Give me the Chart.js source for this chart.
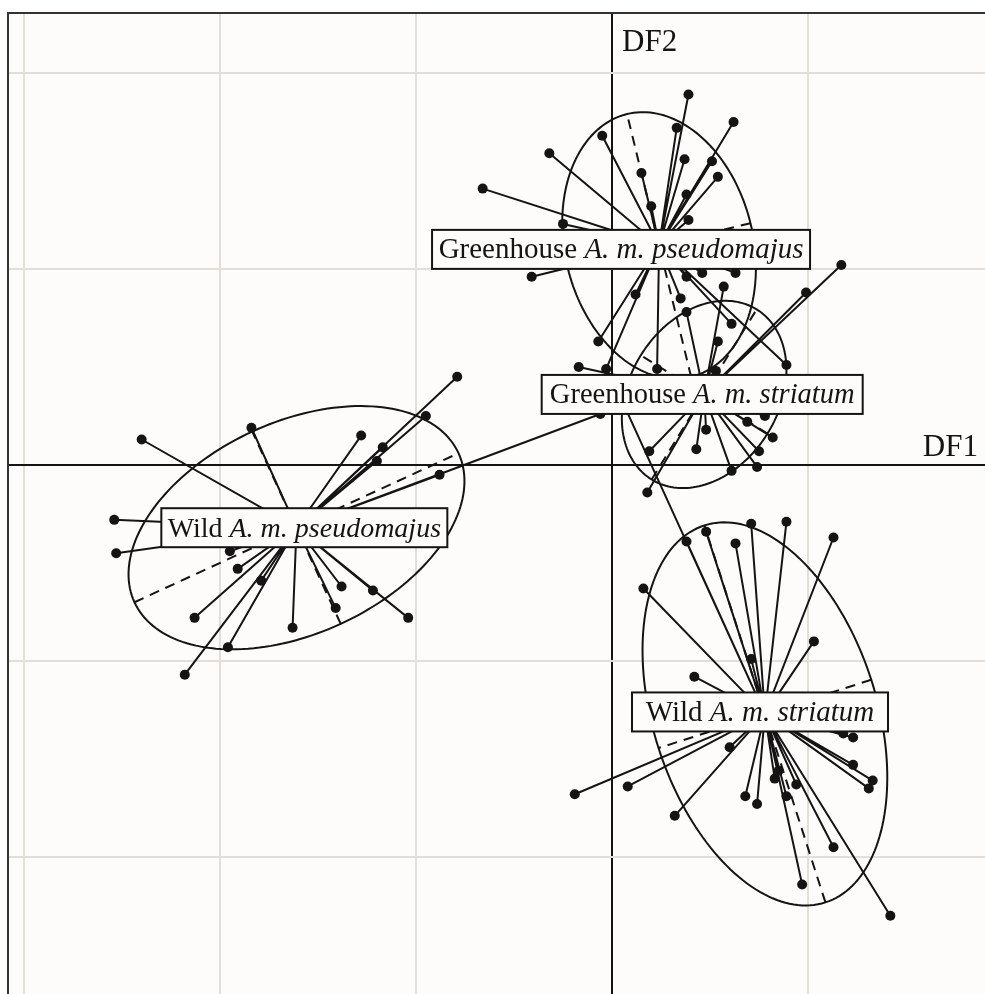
<!DOCTYPE html>
<html>
<head>
<meta charset="utf-8">
<script src="https://cdn.jsdelivr.net/npm/chart.js@4.4.1/dist/chart.umd.min.js"></script>
<style>
  html, body { margin: 0; padding: 0; background: #ffffff; }
  #wrap { width: 985px; height: 994px; }
</style>
</head>
<body>
<div id="wrap"><canvas id="df-chart" width="985" height="994"></canvas></div>
<script>
// Discriminant function scores (DF1, DF2)
const groupNames = ['Greenhouse', 'Greenhouse', 'Wild', 'Wild'];
const taxonNames = ['A. m. pseudomajus', 'A. m. striatum', 'A. m. pseudomajus', 'A. m. striatum'];

const ghPseudomajus = [
  [-0.05, 1.68], [-0.32, 1.59], [-0.66, 1.41], [0.15, 1.49], [0.20, 1.32], [-0.25, 1.23],
  [-0.41, 0.96], [0.39, 1.89], [0.62, 1.75], [0.33, 1.72], [0.37, 1.56], [0.51, 1.55],
  [0.54, 1.47], [0.38, 1.38], [0.39, 1.25], [0.46, 0.98], [0.63, 0.98], [0.38, 0.96],
  [0.12, 0.87], [0.35, 0.85], [0.61, 0.72], [-0.07, 0.63], [-0.03, 0.49], [0.23, 0.49],
  [0.89, 0.51]
];
const ghStriatum = [
  [1.17, 1.02], [0.99, 0.88], [0.57, 0.91], [0.38, 0.78], [0.54, 0.63], [-0.17, 0.50],
  [0.53, 0.48], [0.78, 0.25], [0.69, 0.22], [0.48, 0.18], [0.82, 0.14], [0.19, 0.07],
  [0.43, 0.08], [0.75, 0.07], [0.61, -0.03], [0.74, -0.01], [0.18, -0.14]
];
const wildPseudomajus = [
  [-2.40, 0.13], [-1.84, 0.19], [-0.79, 0.45], [-0.95, 0.25], [-1.28, 0.15], [-1.17, 0.09],
  [-1.20, 0.02], [-0.88, -0.05], [-0.06, 0.26], [-2.54, -0.28], [-2.53, -0.45], [-1.95, -0.44],
  [-1.91, -0.53], [-1.79, -0.59], [-2.13, -0.78], [-1.63, -0.83], [-1.96, -0.93], [-2.18, -1.07],
  [-1.38, -0.62], [-1.41, -0.73], [-1.22, -0.64], [-1.04, -0.78]
];
const wildStriatum = [
  [0.05, 0.33], [0.38, -0.39], [0.48, -0.34], [0.63, -0.40], [0.71, -0.30], [0.89, -0.29],
  [1.13, -0.37], [1.03, -0.90], [0.71, -0.99], [0.16, -0.63], [0.42, -1.08], [-0.19, -1.68],
  [0.08, -1.64], [0.32, -1.79], [0.60, -1.44], [0.68, -1.69], [0.74, -1.73], [0.83, -1.60],
  [0.85, -1.56], [0.89, -1.69], [0.94, -1.63], [1.13, -1.95], [0.97, -2.14], [1.42, -2.30],
  [1.18, -1.37], [1.23, -1.39], [1.23, -1.53], [1.33, -1.61], [1.31, -1.65]
];
const groupPoints = [ghPseudomajus, ghStriatum, wildPseudomajus, wildStriatum];

// class centroids
const centroids = [[0.24, 1.12], [0.47, 0.36], [-1.61, -0.32], [0.78, -1.27]];
// inertia ellipses: semi-major, semi-minor, angle of major axis (degrees)
const semiMajor = [0.69, 0.51, 0.91, 1.01];
const semiMinor = [0.48, 0.38, 0.54, 0.57];
const majorAngle = [103.7, 58.3, 24.7, 107.8];

// grid ticks
const xTicks = [-3, -2, -1, 0, 1];
const yTicks = [2, 1, 0, -1, -2];

// where the class labels sit (data units) and their box widths (px)
const labelPos = [[0.046, 1.10], [0.46, 0.36], [-1.57, -0.32], [0.755, -1.26]];
const labelBoxW = [378, 321, 286, 256];

const INK = '#141414';
const BG = '#fefcfa';
const FONT = '"Liberation Serif", "Times New Roman", serif';

function spokes(pts, c) {
  const out = [];
  pts.forEach(p => {
    out.push({ x: c[0], y: c[1] }, { x: p[0], y: p[1] }, { x: c[0], y: null });
  });
  return out;
}

const datasets = [];
groupPoints.forEach((pts, i) => {
  datasets.push({
    data: spokes(pts, centroids[i]),
    showLine: true,
    spanGaps: false,
    borderColor: INK,
    borderWidth: 2,
    pointRadius: 0
  });
});
groupPoints.forEach(pts => {
  datasets.push({
    data: pts.map(p => ({ x: p[0], y: p[1] })),
    showLine: false,
    pointRadius: 5,
    pointBackgroundColor: INK,
    pointBorderWidth: 0
  });
});

const overlay = {
  id: 'overlay',
  beforeDraw(chart) {
    const { ctx, chartArea: a } = chart;
    ctx.save();
    ctx.fillStyle = BG;
    ctx.fillRect(a.left, a.top, a.right - a.left, a.bottom - a.top);
    ctx.restore();
  },
  beforeDatasetsDraw(chart) {
    const { ctx, scales: { x, y } } = chart;
    ctx.save();
    ctx.strokeStyle = INK;
    ctx.lineWidth = 2;
    centroids.forEach((c, i) => {
      const t = majorAngle[i] * Math.PI / 180;
      const A = semiMajor[i], B = semiMinor[i];
      ctx.beginPath();
      for (let k = 0; k <= 180; k++) {
        const u = k / 180 * 2 * Math.PI;
        const ex = c[0] + A * Math.cos(u) * Math.cos(t) - B * Math.sin(u) * Math.sin(t);
        const ey = c[1] + A * Math.cos(u) * Math.sin(t) + B * Math.sin(u) * Math.cos(t);
        const px = x.getPixelForValue(ex), py = y.getPixelForValue(ey);
        if (k === 0) ctx.moveTo(px, py); else ctx.lineTo(px, py);
      }
      ctx.closePath();
      ctx.stroke();
      // ellipse axes, dashed
      ctx.setLineDash([10, 7]);
      [[A, t], [B, t + Math.PI / 2]].forEach(([r, ang]) => {
        ctx.beginPath();
        ctx.moveTo(x.getPixelForValue(c[0] - r * Math.cos(ang)), y.getPixelForValue(c[1] - r * Math.sin(ang)));
        ctx.lineTo(x.getPixelForValue(c[0] + r * Math.cos(ang)), y.getPixelForValue(c[1] + r * Math.sin(ang)));
        ctx.stroke();
      });
      ctx.setLineDash([]);
    });
    ctx.restore();
  },
  afterDatasetsDraw(chart) {
    const { ctx, chartArea: a, scales: { x, y } } = chart;
    ctx.save();
    ctx.textBaseline = 'alphabetic';
    labelPos.forEach((p, i) => {
      const reg = groupNames[i] + ' ';
      const ita = taxonNames[i];
      const w = labelBoxW[i], h = 39;
      // shrink the text if it would not fit in the box
      let size = 29, w1, w2;
      for (; size > 20; size -= 0.5) {
        ctx.font = size + 'px ' + FONT;
        w1 = ctx.measureText(reg).width;
        ctx.font = 'italic ' + size + 'px ' + FONT;
        w2 = ctx.measureText(ita).width;
        if (w1 + w2 <= w - 12) break;
      }
      const cx = x.getPixelForValue(p[0]), cy = y.getPixelForValue(p[1]);
      ctx.fillStyle = BG;
      ctx.strokeStyle = INK;
      ctx.lineWidth = 2;
      ctx.fillRect(cx - w / 2, cy - h / 2, w, h);
      ctx.strokeRect(cx - w / 2, cy - h / 2, w, h);
      ctx.fillStyle = INK;
      ctx.textAlign = 'left';
      const tx = cx - (w1 + w2) / 2;
      ctx.font = size + 'px ' + FONT;
      ctx.fillText(reg, tx, cy + 9);
      ctx.font = 'italic ' + size + 'px ' + FONT;
      ctx.fillText(ita, tx + w1, cy + 9);
    });

    // axis names
    ctx.font = '31px ' + FONT;
    ctx.fillStyle = INK;
    ctx.textAlign = 'right';
    ctx.fillText('DF1', a.right - 7, y.getPixelForValue(0) - 9);
    ctx.textAlign = 'left';
    ctx.fillText('DF2', x.getPixelForValue(0) + 10, a.top + 38);

    // frame (top and left visible)
    ctx.strokeStyle = '#333';
    ctx.lineWidth = 2;
    ctx.beginPath();
    ctx.moveTo(a.left, a.bottom);
    ctx.lineTo(a.left, a.top);
    ctx.lineTo(a.right, a.top);
    ctx.stroke();
    ctx.restore();
  }
};

function gridColor(c) {
  return c.tick && c.tick.value === 0 ? INK : '#e2deda';
}

const ctx = document.getElementById('df-chart').getContext('2d');
const dfChart = new Chart(ctx, {
  type: 'scatter',
  data: { datasets: datasets },
  options: {
    responsive: false,
    animation: false,
    layout: { autoPadding: false, padding: { left: 8, top: 13, right: 0, bottom: 0 } },
    scales: {
      x: {
        type: 'linear',
        min: -3.082,
        max: 1.903,
        afterBuildTicks: s => { s.ticks = xTicks.map(v => ({ value: v })); },
        ticks: { display: false },
        grid: { drawTicks: false, color: gridColor, lineWidth: 2 },
        border: { display: false }
      },
      y: {
        type: 'linear',
        min: -2.699,
        max: 2.306,
        afterBuildTicks: s => { s.ticks = yTicks.map(v => ({ value: v })); },
        ticks: { display: false },
        grid: { drawTicks: false, color: gridColor, lineWidth: 2 },
        border: { display: false }
      }
    },
    plugins: {
      legend: { display: false },
      tooltip: { enabled: false }
    }
  },
  plugins: [overlay]
});
</script>
</body>
</html>
